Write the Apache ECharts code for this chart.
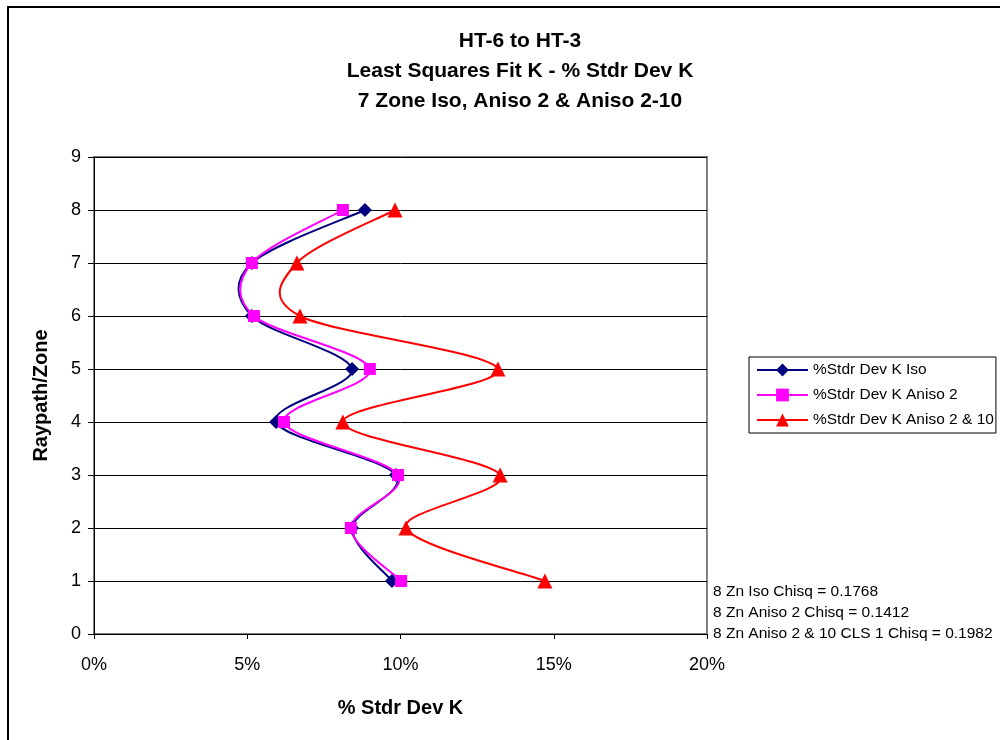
<!DOCTYPE html>
<html>
<head>
<meta charset="utf-8">
<script src="https://cdn.jsdelivr.net/npm/echarts@6/dist/echarts.min.js"></script>
<style>
  html, body { margin: 0; padding: 0; background: #fff; }
  #chart { width: 1000px; height: 740px; }
</style>
</head>
<body>
<div id="chart"></div>
<script>
// Raypath / zone numbers (y) and % standard deviation of K (x, in percent)
const zones = [8, 7, 6, 5, 4, 3, 2, 1];
const isoStdDev = [8.84, 5.15, 5.15, 8.42, 5.94, 9.85, 8.42, 9.72];
const aniso2StdDev = [8.12, 5.15, 5.22, 9.0, 6.2, 9.92, 8.38, 10.02];
const aniso210StdDev = [9.82, 6.62, 6.72, 13.18, 8.12, 13.25, 10.18, 14.71];

const seriesNames = ['%Stdr Dev K Iso', '%Stdr Dev K Aniso 2', '%Stdr Dev K Aniso 2 & 10'];
const seriesColors = ['#000080', '#ff00ff', '#ff0000'];
const titleLines = ['HT-6 to HT-3', 'Least Squares Fit K - % Stdr Dev K', '7 Zone Iso, Aniso 2 & Aniso 2-10'];
const chisqNotes = [
  '8 Zn Iso Chisq = 0.1768',
  '8 Zn Aniso 2 Chisq = 0.1412',
  '8 Zn Aniso 2 & 10 CLS 1 Chisq = 0.1982'
];

const pair = (xs) => xs.map((x, i) => [x, zones[i]]);
const FONT = '"Liberation Sans", Arial, sans-serif';

const chart = echarts.init(document.getElementById('chart'), null, { renderer: 'canvas' });

// Smoothed connecting curve (Catmull-Rom style cubic segments), computed in
// pixel space from the data points projected through the axes.
function smoothCurveSeries(xs, color) {
  const n = xs.length;
  return {
    type: 'custom',
    data: pair(xs),
    silent: true,
    z: 2,
    renderItem: function (params, api) {
      const i = params.dataIndexInside;
      if (i >= n - 1) return null;
      const pt = (k) => {
        const kk = Math.max(0, Math.min(n - 1, k));
        return api.coord([api.value(0, kk), api.value(1, kk)]);
      };
      const p0 = pt(i - 1), p1 = pt(i), p2 = pt(i + 1), p3 = pt(i + 2);
      const t = 1 / 6;
      return {
        type: 'bezierCurve',
        shape: {
          x1: p1[0], y1: p1[1],
          x2: p2[0], y2: p2[1],
          cpx1: p1[0] + (p2[0] - p0[0]) * t,
          cpy1: p1[1] + (p2[1] - p0[1]) * t,
          cpx2: p2[0] - (p3[0] - p1[0]) * t,
          cpy2: p2[1] - (p3[1] - p1[1]) * t
        },
        style: { stroke: color, lineWidth: 2, fill: null }
      };
    }
  };
}

// Marker series (the curve itself is drawn by the matching custom series)
function markerSeries(name, xs, color, symbol, size) {
  return {
    name: name,
    type: 'line',
    data: pair(xs),
    symbol: symbol,
    symbolSize: size,
    showAllSymbol: true,
    lineStyle: { color: color, width: 2, opacity: 0 },
    itemStyle: { color: color },
    z: 4
  };
}

chart.setOption({
  animation: false,
  textStyle: { fontFamily: FONT },
  title: {
    text: titleLines.join('\n'),
    left: 515,
    top: 21,
    textAlign: 'center',
    textStyle: { fontSize: 21, fontWeight: 'bold', color: '#000', lineHeight: 30, fontFamily: FONT }
  },
  grid: {
    left: 94, right: 293, top: 157, bottom: 106,
    show: true, borderColor: '#808080', borderWidth: 2, backgroundColor: '#fff'
  },
  legend: {
    orient: 'vertical',
    left: 749, top: 357,
    padding: [4, 2, 4, 7],
    itemGap: 7,
    itemWidth: 51, itemHeight: 16,
    backgroundColor: '#fff',
    borderColor: '#000', borderWidth: 1,
    textStyle: { fontSize: 15.5, lineHeight: 18, color: '#000', fontFamily: FONT },
    data: seriesNames.map((nm, i) => ({
      name: nm,
      lineStyle: { color: seriesColors[i], width: 2, opacity: 1 }
    }))
  },
  xAxis: {
    type: 'value',
    min: 0, max: 20, interval: 5,
    name: '% Stdr Dev K',
    nameLocation: 'middle',
    nameGap: 64,
    nameTextStyle: { fontSize: 20, fontWeight: 'bold', color: '#000', fontFamily: FONT },
    axisLine: { show: true, onZero: false, lineStyle: { color: '#000', width: 1 } },
    axisTick: { show: true, length: 5, lineStyle: { color: '#000' } },
    axisLabel: { formatter: '{value}%', fontSize: 18, color: '#000', margin: 22, fontFamily: FONT },
    splitLine: { show: false }
  },
  yAxis: {
    type: 'value',
    min: 0, max: 9, interval: 1,
    name: 'Raypath/Zone',
    nameLocation: 'middle',
    nameGap: 43,
    nameTextStyle: { fontSize: 20, fontWeight: 'bold', color: '#000', fontFamily: FONT },
    axisLine: { show: true, onZero: false, lineStyle: { color: '#000', width: 1 } },
    axisTick: { show: true, length: 6, lineStyle: { color: '#000' } },
    axisLabel: { fontSize: 18, color: '#000', margin: 13, fontFamily: FONT },
    splitLine: { show: true, lineStyle: { color: '#000', width: 1 } }
  },
  graphic: [
    {
      type: 'rect',
      shape: { x: 8, y: 7, width: 1010, height: 760 },
      style: { fill: null, stroke: '#000', lineWidth: 2 },
      silent: true, z: 100
    },
    ...chisqNotes.map((t, i) => ({
      type: 'text',
      x: 713,
      y: 592 + i * 21,
      style: { text: t, fill: '#000', font: '15.5px ' + FONT, verticalAlign: 'middle' },
      silent: true
    }))
  ],
  series: [
    smoothCurveSeries(isoStdDev, seriesColors[0]),
    smoothCurveSeries(aniso2StdDev, seriesColors[1]),
    smoothCurveSeries(aniso210StdDev, seriesColors[2]),
    markerSeries(seriesNames[0], isoStdDev, seriesColors[0], 'diamond', 14),
    markerSeries(seriesNames[1], aniso2StdDev, seriesColors[1], 'rect', 12),
    markerSeries(seriesNames[2], aniso210StdDev, seriesColors[2], 'triangle', 15)
  ]
});
</script>
</body>
</html>
